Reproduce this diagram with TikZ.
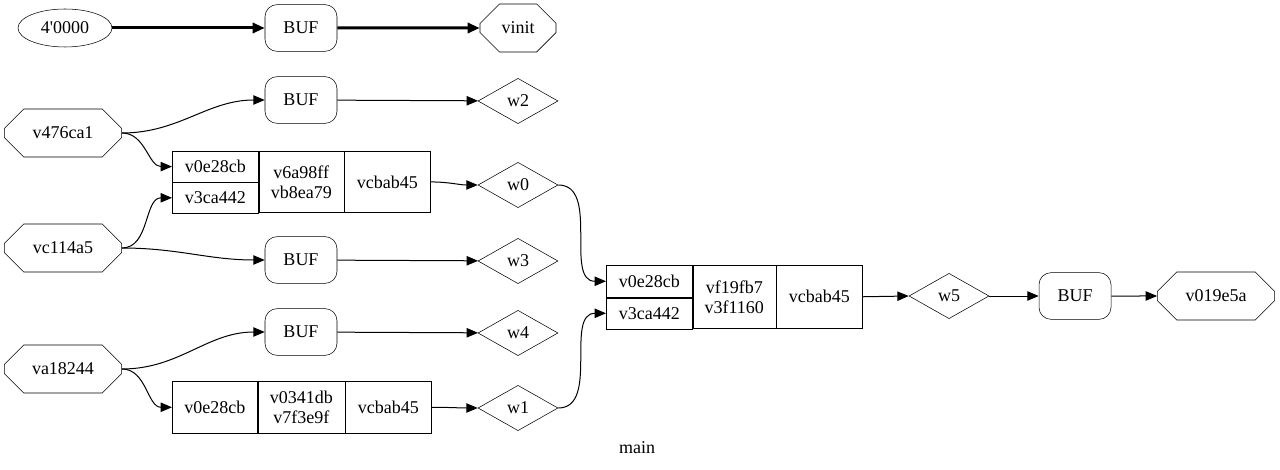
\documentclass[tikz,border=0pt]{standalone}
\usepackage{fontspec}
\setmainfont{LiberationSerif}[Extension=.ttf,UprightFont=*-Regular]
\usetikzlibrary{arrows.meta,calc,positioning,shapes.geometric,shapes.misc}

\begin{document}
\begin{tikzpicture}[x=0.75pt,y=-0.75pt,font=\fontsize{13.5}{15}\selectfont,
  buf/.style={draw,rounded corners=9pt,minimum width=54pt,minimum height=35pt,inner sep=0pt},
  wire/.style={draw,diamond,minimum width=60pt,minimum height=34pt,inner sep=0pt},
  port/.style={draw,chamfered rectangle,chamfered rectangle xsep={0.29*#1},
    chamfered rectangle ysep=10pt,minimum width=#1,minimum height=36pt,inner sep=0pt},
  port/.default=88pt,
  cell/.style={draw,anchor=north west,inner sep=0pt,align=center},
  conn/.style={-{Triangle[length=8.5pt,width=7pt]},line width=0.75pt},
  bus/.style={-{Triangle[length=9pt,width=7.5pt]},line width=2.25pt}]
  \useasboundingbox (0,0) rectangle (1280,470);

  % constant init
  \node[draw,ellipse,minimum width=70.5pt,minimum height=28.5pt,inner sep=0pt] (k0) at (65,28) {4\textquotesingle 0000};
  \node[buf] (bufinit) at (301,28) {BUF};
  \node[port=57pt] (vinit) at (518,28) {vinit};
  \draw[bus] (k0) -- (bufinit);
  \draw[bus] (bufinit) -- (vinit);

  % inputs
  \node[port] (v476) at (63,133) {v476ca1};
  \node[port] (vc114) at (63,248) {vc114a5};
  \node[port] (va182) at (63,369) {va18244};

  % buffers and wires
  \foreach \b/\w/\y in {buf2/w2/100, buf3/w3/260, buf4/w4/332} {
    \node[buf] (\b) at (301,\y) {BUF};
    \node[wire] (\w) at (518,\y+1) {\w};
    \draw[conn] (\b) -- (\w);
  }

  % record r0
  \node[cell,minimum width=64.5pt,minimum height=23pt] (r0i0) at (172,151) {v0e28cb};
  \node[cell,minimum width=64.5pt,minimum height=23pt] (r0i1) at (r0i0.south west) {v3ca442};
  \node[cell,minimum width=63.75pt,minimum height=46pt] (r0s) at (r0i0.north east) {v6a98ff\\vb8ea79};
  \node[cell,minimum width=64.5pt,minimum height=46pt] (r0o) at (r0s.north east) {vcbab45};
  \node[wire] (w0) at (518,185) {w0};

  % record r1
  \node[cell,minimum width=64pt,minimum height=39pt] (r1i0) at (172,381) {v0e28cb};
  \node[cell,minimum width=65pt,minimum height=39pt] (r1s) at (r1i0.north east) {v0341db\\v7f3e9f};
  \node[cell,minimum width=64.5pt,minimum height=39pt] (r1o) at (r1s.north east) {vcbab45};
  \node[wire] (w1) at (518,408) {w1};

  % record r2
  \node[cell,minimum width=64.5pt,minimum height=24pt] (r2i0) at (606,265) {v0e28cb};
  \node[cell,minimum width=64.5pt,minimum height=23.25pt] (r2i1) at (r2i0.south west) {v3ca442};
  \node[cell,minimum width=62.25pt,minimum height=47.25pt] (r2s) at (r2i0.north east) {vf19fb7\\v3f1160};
  \node[cell,minimum width=64.5pt,minimum height=47.25pt] (r2o) at (r2s.north east) {vcbab45};

  % output side
  \node[wire] (w5) at (949,296) {w5};
  \node[buf] (buf5) at (1075,296) {BUF};
  \node[port] (v019) at (1216,296) {v019e5a};

  \draw[conn] (v476.east) to[out=0,in=180] (buf2.west);
  \draw[conn] (v476.east) to[out=0,in=180] (r0i0.west);
  \draw[conn] (vc114.east) to[out=0,in=180] (r0i1.west);
  \draw[conn] (vc114.east) to[out=0,in=180] (buf3.west);
  \draw[conn] (va182.east) to[out=0,in=180] (buf4.west);
  \draw[conn] (va182.east) to[out=0,in=180] (r1i0.west);
  \draw[conn] (r0o.east) to[out=0,in=180] (w0.west);
  \draw[conn] (r1o.east) to[out=0,in=180] (w1.west);
  \draw[conn] (w0.east) to[out=0,in=180] (r2i0.west);
  \draw[conn] (w1.east) to[out=0,in=180] (r2i1.west);
  \draw[conn] (r2o.east) -- (w5.west);
  \draw[conn] (w5) -- (buf5);
  \draw[conn] (buf5) -- (v019);

  \node (title) at (637,448) {main};
\end{tikzpicture}
\end{document}
